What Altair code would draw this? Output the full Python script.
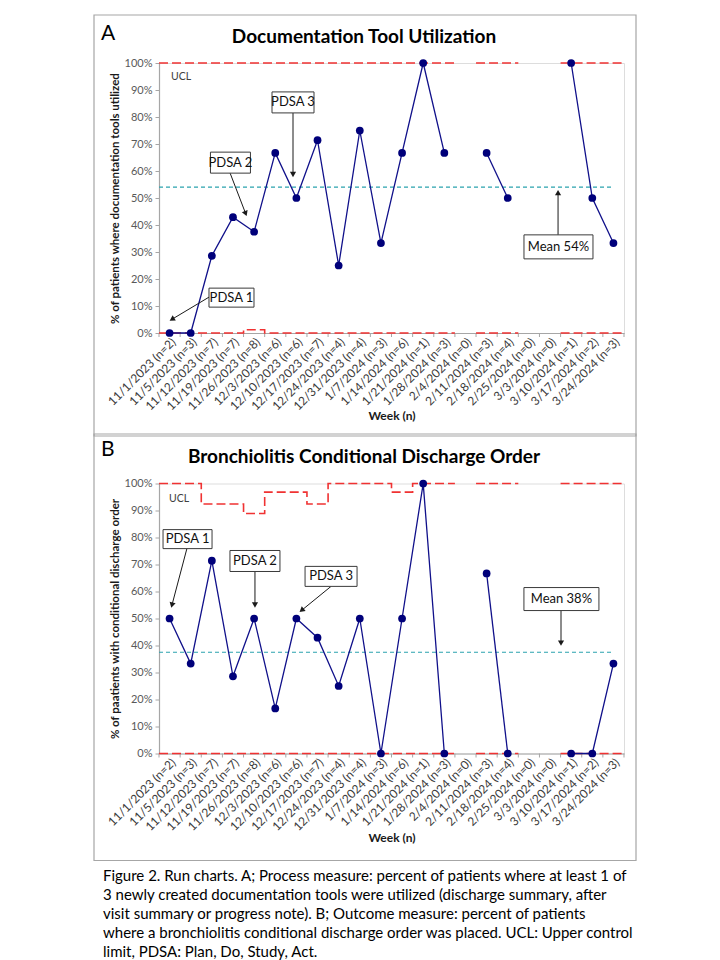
import math
import altair as alt
import pandas as pd

# ---------------- data ----------------
weeks = ["11/1/2023", "11/5/2023", "11/12/2023", "11/19/2023", "11/26/2023",
         "12/3/2023", "12/10/2023", "12/17/2023", "12/24/2023", "12/31/2023",
         "1/7/2024", "1/14/2024", "1/21/2024", "1/28/2024", "2/4/2024",
         "2/11/2024", "2/18/2024", "2/25/2024", "3/3/2024", "3/10/2024",
         "3/17/2024", "3/24/2024"]
n_patients = [2, 3, 7, 7, 8, 6, 6, 7, 4, 4, 3, 6, 1, 3, 0, 3, 4, 0, 0, 1, 2, 3]

doc_pct = [0, 0, 28.6, 42.9, 37.5, 66.7, 50, 71.4, 25, 75, 33.3, 66.7, 100, 66.7,
           None, 66.7, 50, None, None, 100, 50, 33.3]
doc_ucl = [100, 100, 100, 100, 100, 100, 100, 100, 100, 100, 100, 100, 100, 100,
           None, 100, 100, None, None, 100, 100, 100]
doc_lcl = [0, 0, 0, 0, 1.2, 0, 0, 0, 0, 0, 0, 0, 0, 0,
           None, 0, 0, None, None, 0, 0, 0]
doc_mean = 54

order_pct = [50, 33.3, 71.4, 28.6, 50, 16.7, 50, 42.9, 25, 50, 0, 50, 100, 0,
             None, 66.7, 0, None, None, 0, 0, 33.3]
order_ucl = [100, 100, 92.4, 92.4, 88.9, 96.8, 96.8, 92.4, 100, 100, 100, 96.8, 100, 100,
             None, 100, 100, None, None, 100, 100, 100]
order_lcl = [0, 0, 0, 0, 0, 0, 0, 0, 0, 0, 0, 0, 0, 0,
             None, 0, 0, None, None, 0, 0, 0]
order_mean = 37.5

tick_labels = [f"{w} (n={n})" for w, n in zip(weeks, n_patients)]

caption_lines = [
    "Figure 2. Run charts. A; Process measure: percent of patients where at least 1 of",
    "3 newly created documentation tools were utilized (discharge summary, after",
    "visit summary or progress note). B; Outcome measure: percent of patients",
    "where a bronchiolitis conditional discharge order was placed. UCL: Upper control",
    "limit, PDSA: Plan, Do, Study, Act.",
]

# annotations: (label, x-center, y-center, box width px, box height px)
boxes_a = [("PDSA 1", 2.93, 13.1, 45, 19), ("PDSA 2", 2.88, 63.1, 40, 21),
           ("PDSA 3", 5.84, 85.4, 42, 21), ("Mean 54%", 18.40, 31.9, 69, 24)]
arrows_a = [(1.87, 13.3, -0.03, 4.4), (2.86, 59.3, 3.66, 43.0),
            (5.84, 81.5, 5.84, 57.4), (18.38, 36.3, 18.38, 53.3)]
boxes_b = [("PDSA 1", 0.85, 79.4, 49, 19), ("PDSA 2", 4.04, 71.3, 50, 21),
           ("PDSA 3", 7.64, 65.6, 52, 20), ("Mean 38%", 18.54, 57.2, 75, 23)]
arrows_b = [(0.82, 75.9, 0.07, 53.7), (4.04, 67.4, 4.04, 53.7),
            (7.64, 61.9, 6.12, 52.2), (18.52, 53.0, 18.52, 39.6)]

# ---------------- helpers ----------------
W, H = 465, 270
NCAT = len(weeks)
PXU = W / NCAT
PYU = H / 100.0
FONT = "Lato"

xscale = alt.Scale(domain=[-0.5, NCAT - 0.5], nice=False, zero=False)
yscale = alt.Scale(domain=[0, 100], nice=False, zero=False)
label_expr = "[" + ",".join("'" + t + "'" for t in tick_labels) + "][datum.value]"


def series_df(vals):
    rows, seg = [], 0
    for i, v in enumerate(vals):
        if v is None:
            seg += 1
            continue
        rows.append(dict(x=i, y=v, seg=seg))
    return pd.DataFrame(rows)


def step_df(vals):
    rows, seg, k = [], 0, 0
    for i, v in enumerate(vals):
        if v is None:
            seg += 1
            continue
        rows.append(dict(x=i - 0.5, y=v, seg=seg, o=k)); k += 1
        rows.append(dict(x=i + 0.5, y=v, seg=seg, o=k)); k += 1
    return pd.DataFrame(rows)


def make_panel(vals, ucl, lcl, mean, ytitle, title, letter, boxes, arrows,
               ucl_pos, box_top, box_bottom, title_y, letter_y, xtitle_y, extra=None):
    x_axis = alt.Axis(values=list(range(NCAT)), labelExpr=label_expr, labelAngle=-45,
                      labelAlign="right", labelBaseline="top", labelOverlap=False, labelFlush=False,
                      labelFont=FONT, labelFontSize=12, labelColor="#3a3a3a", labelPadding=3,
                      ticks=False, grid=False, domainColor="#A6A6A6", domainWidth=1.2,
                      title="Week (n)", titleFont=FONT, titleFontSize=12, titleFontWeight="bold",
                      titleColor="#1a1a1a", titleY=xtitle_y, titleX=W / 2, titleBaseline="middle")
    y_axis = alt.Axis(values=list(range(0, 101, 10)), labelExpr="datum.value + '%'",
                      tickSize=4, tickColor="#A6A6A6", domainColor="#A6A6A6", domainWidth=1.2,
                      grid=False, labelFont=FONT, labelFontSize=11, labelColor="#595959", labelPadding=3,
                      title=ytitle, titleFont=FONT, titleFontSize=11.5, titleFontWeight="bold",
                      titleColor="#1a1a1a", titleX=-44, titleY=H / 2, titleBaseline="middle",
                      titleAlign="center", titleAngle=270)

    def X(field="x"):
        return alt.X(f"{field}:Q", scale=xscale, axis=x_axis)

    def Y(field="y"):
        return alt.Y(f"{field}:Q", scale=yscale, axis=y_axis)

    dummy = pd.DataFrame({"a": [0]})
    layers = []

    sdf = series_df(vals)
    line_layer = alt.Chart(sdf).mark_line(color="#10108A", strokeWidth=1.3).encode(
        x=X(), y=Y(), detail="seg:N")
    point_layer = alt.Chart(sdf).mark_point(filled=True, size=60, opacity=1, color="#00007A").encode(
        x=X(), y=Y())

    # panel border
    layers.append(alt.Chart(dummy).mark_rect(fillOpacity=0, stroke="#A6A6A6", strokeWidth=1.2).encode(
        x=alt.value(-65), x2=alt.value(477), y=alt.value(box_top), y2=alt.value(box_bottom)))

    # category boundary ticks
    bnd = pd.DataFrame({"x": [i - 0.5 for i in range(NCAT + 1)]})
    layers.append(alt.Chart(bnd).mark_rule(color="#A6A6A6", strokeWidth=1).encode(
        x=X(), y=alt.value(H), y2=alt.value(H + 4)))

    # UCL / LCL step lines
    for lim in (ucl, lcl):
        layers.append(alt.Chart(step_df(lim)).mark_line(
            color="#F03232", strokeWidth=1.6, strokeDash=[9, 4], interpolate="linear").encode(
            x=X(), y=Y(), detail="seg:N", order="o:Q"))

    # mean line
    mean_df = pd.DataFrame({"x": [-0.5], "x2": [NCAT - 1], "y": [mean]})
    layers.append(alt.Chart(mean_df).mark_rule(color="#2BA3AE", strokeWidth=1.2, strokeDash=[4, 3]).encode(
        x=X(), x2="x2:Q", y=Y()))

    # UCL label
    layers.append(alt.Chart(pd.DataFrame({"x": [ucl_pos[0]], "y": [ucl_pos[1]], "t": ["UCL"]})).mark_text(
        font=FONT, fontSize=10.5, align="left", baseline="middle", color="#404040").encode(
        x=X(), y=Y(), text="t:N"))

    layers.append(line_layer)
    layers.append(point_layer)

    # arrows
    arows, heads = [], []
    for (x1, y1, x2, y2) in arrows:
        dx = (x2 - x1) * PXU
        dy = -(y2 - y1) * PYU
        L = math.hypot(dx, dy)
        ux, uy = dx / L, dy / L
        ang = math.degrees(math.atan2(dx, -dy)) % 360
        hx = x2 - 3.5 * ux / PXU
        hy = y2 + 3.5 * uy / PYU
        arows.append(dict(x=x1, y=y1, x2=hx, y2=hy))
        heads.append(dict(x=hx, y=hy, a=ang))
    layers.append(alt.Chart(pd.DataFrame(arows)).mark_rule(color="#1a1a1a", strokeWidth=1).encode(
        x=X(), y=Y(), x2="x2:Q", y2="y2:Q"))
    layers.append(alt.Chart(pd.DataFrame(heads)).mark_point(
        shape="triangle-up", filled=True, size=38, opacity=1, color="#1a1a1a").encode(
        x=X(), y=Y(), angle=alt.Angle("a:Q", scale=None)))

    # boxes
    brows = []
    for (t, cx, cy, bw, bh) in boxes:
        brows.append(dict(t=t, x=cx, y=cy, x1=cx - bw / 2 / PXU, x2=cx + bw / 2 / PXU,
                          y1=cy - bh / 2 / PYU, y2=cy + bh / 2 / PYU))
    bdf = pd.DataFrame(brows)
    layers.append(alt.Chart(bdf).mark_rect(fill="white", stroke="#3a3a3a", strokeWidth=1).encode(
        x=X("x1"), x2="x2:Q", y=Y("y1"), y2="y2:Q"))
    layers.append(alt.Chart(bdf).mark_text(font=FONT, fontSize=13, color="#111111",
                                           baseline="middle", align="center").encode(
        x=X(), y=Y(), text="t:N"))

    # title and panel letter
    layers.append(alt.Chart(dummy).mark_text(font=FONT, fontSize=19, fontWeight="bold", color="#000000",
                                             align="center", baseline="middle").encode(
        x=alt.value(205), y=alt.value(title_y), text=alt.value(title)))
    layers.append(alt.Chart(dummy).mark_text(font=FONT, fontSize=21, color="#000000",
                                             align="left", baseline="middle").encode(
        x=alt.value(-58), y=alt.value(letter_y), text=alt.value(letter)))

    if extra:
        layers.extend(extra)

    return alt.layer(*layers).properties(width=W, height=H)


caption_layer = alt.Chart(pd.DataFrame({"a": [0]})).mark_text(
    font=FONT, fontSize=15, color="#000000", align="left", baseline="middle",
    lineHeight=19).encode(
    x=alt.value(-56), y=alt.value(392.5), text=alt.value(caption_lines))

panel_a = make_panel(doc_pct, doc_ucl, doc_lcl, doc_mean,
                     "% of patients where documentation tools utilized",
                     "Documentation Tool Utilization", "A", boxes_a, arrows_a,
                     (0.07, 94.8), -48, 373, -26, -29, 82)
panel_b = make_panel(order_pct, order_ucl, order_lcl, order_mean,
                     "% of paatients with conditional discharge order",
                     "Bronchiolitis Conditional Discharge Order", "B", boxes_b, arrows_b,
                     (-0.03, 94.1), -49.5, 377, -27, -34, 84, extra=[caption_layer])

chart = alt.vconcat(panel_a, panel_b, spacing=-5.5).properties(
    padding={"left": 84, "top": 5, "right": 5, "bottom": 0}
).configure_view(stroke=None).configure(font=FONT)

chart.save("out.html", embed_options={"renderer": "svg", "actions": False})
